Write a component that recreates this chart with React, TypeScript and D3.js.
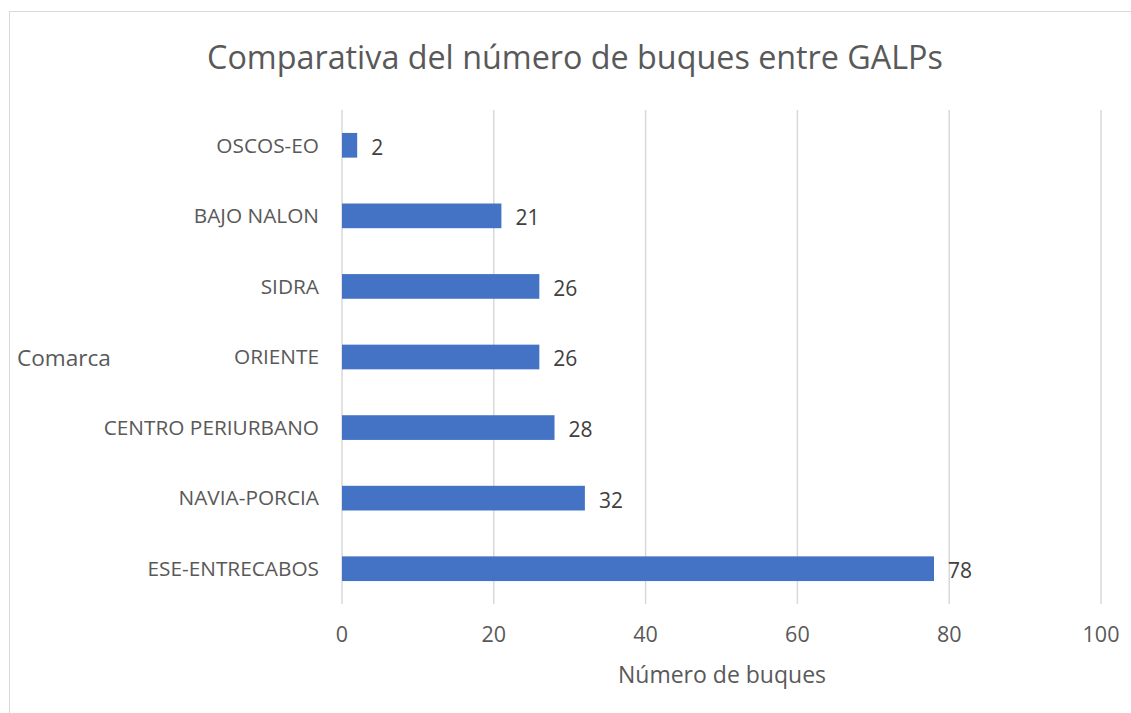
import React from 'react';
import * as d3 from 'd3';

const categories = ['OSCOS-EO', 'BAJO NALON', 'SIDRA', 'ORIENTE', 'CENTRO PERIURBANO', 'NAVIA-PORCIA', 'ESE-ENTRECABOS'];
const buques = [2, 21, 26, 26, 28, 32, 78];
const xTicks = [0, 20, 40, 60, 80, 100];

const title = 'Comparativa del número de buques entre GALPs';
const xTitle = 'Número de buques';
const yTitle = 'Comarca';

function App() {
  const width = 1131;
  const height = 713;
  const left = 342;
  const right = 1101;
  const top = 110;
  const bottom = 604;
  const font = "'Open Sans', sans-serif";
  const textColor = '#595959';

  const x = d3.scaleLinear().domain([0, 100]).range([left, right]);
  const y = d3.scaleBand().domain(categories).range([top, bottom]).paddingInner(0.65).paddingOuter(0.325);

  return (
    <svg width={width} height={height} style={{ position: 'absolute', left: 0, top: 0, background: '#fff' }}>
      <rect x={9.5} y={11.5} width={1140} height={720} fill="#fff" stroke="#d9d9d9" strokeWidth={1} />
      <text x={575} y={69} textAnchor="middle" fontFamily={font} fontSize={32.3} fill={textColor}>{title}</text>

      {xTicks.map(t => (
        <line key={t} x1={x(t)} x2={x(t)} y1={top} y2={bottom} stroke="#d9d9d9" strokeWidth={1.5} />
      ))}

      {categories.map((c, i) => (
        <g key={c}>
          <rect x={x(0)} y={y(c)} width={x(buques[i]) - x(0)} height={y.bandwidth()} fill="#4472C4" />
          <text x={left - 23} y={y(c)! + y.bandwidth() / 2} dy="0.35em" textAnchor="end" fontFamily={font} fontSize={20.8} fill={textColor}>{c}</text>
          <text x={x(buques[i]) + 14} y={y(c)! + y.bandwidth() / 2} dy="0.45em" textAnchor="start" fontFamily={font} fontSize={21} fill="#404040">{buques[i]}</text>
        </g>
      ))}

      {xTicks.map(t => (
        <text key={t} x={x(t)} y={634} dy="0.35em" textAnchor="middle" fontFamily={font} fontSize={21.5} fill={textColor}>{t}</text>
      ))}

      <text x={722} y={675} dy="0.35em" textAnchor="middle" fontFamily={font} fontSize={23} fill={textColor}>{xTitle}</text>
      <text x={17} y={358} dy="0.35em" textAnchor="start" fontFamily={font} fontSize={22.6} fill={textColor}>{yTitle}</text>
    </svg>
  );
}

export default App;
